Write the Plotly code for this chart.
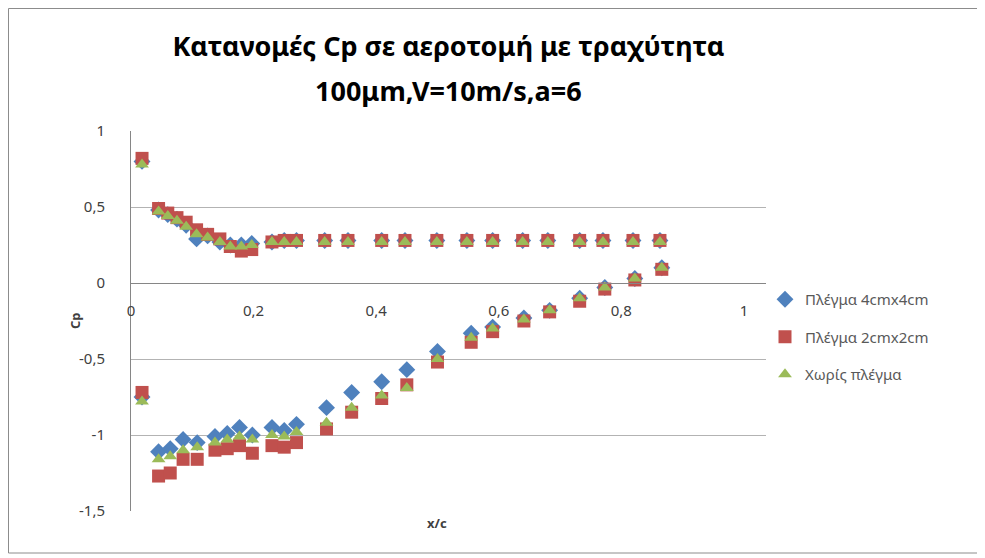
import plotly.graph_objects as go

# x/c positions (upper surface, then lower surface)
x_upper = [0.018, 0.045, 0.06, 0.075, 0.09, 0.107, 0.125, 0.145, 0.162, 0.18, 0.197,
           0.23, 0.25, 0.27, 0.316, 0.354, 0.409, 0.447, 0.499, 0.548, 0.59, 0.639,
           0.68, 0.732, 0.77, 0.819, 0.863]
x_lower = [0.018, 0.045, 0.064, 0.085, 0.108, 0.137, 0.157, 0.177, 0.198, 0.23, 0.25,
           0.27, 0.319, 0.36, 0.409, 0.45, 0.5, 0.555, 0.59, 0.641, 0.683, 0.732,
           0.773, 0.822, 0.866]

# Πλέγμα 4cmx4cm
cp4_upper = [0.80, 0.48, 0.45, 0.42, 0.38, 0.29, 0.31, 0.27, 0.25, 0.25, 0.26,
             0.27, 0.28, 0.28, 0.28, 0.28, 0.28, 0.28, 0.28, 0.28, 0.28, 0.28,
             0.28, 0.28, 0.28, 0.28, 0.28]
cp4_lower = [-0.75, -1.11, -1.09, -1.03, -1.05, -1.01, -0.99, -0.95, -1.0, -0.95, -0.97,
             -0.93, -0.82, -0.72, -0.65, -0.57, -0.45, -0.33, -0.29, -0.23, -0.18, -0.10,
             -0.03, 0.03, 0.10]

# Πλέγμα 2cmx2cm
cp2_upper = [0.82, 0.49, 0.46, 0.43, 0.40, 0.35, 0.32, 0.29, 0.24, 0.21, 0.22,
             0.27, 0.28, 0.28, 0.28, 0.28, 0.28, 0.28, 0.28, 0.28, 0.28, 0.28,
             0.28, 0.28, 0.28, 0.28, 0.28]
cp2_lower = [-0.72, -1.27, -1.25, -1.16, -1.16, -1.10, -1.09, -1.07, -1.12, -1.07, -1.08,
             -1.05, -0.96, -0.85, -0.76, -0.67, -0.52, -0.39, -0.32, -0.25, -0.19, -0.12,
             -0.04, 0.02, 0.09]

# Χωρίς πλέγμα
cp0_upper = [0.78, 0.47, 0.44, 0.41, 0.37, 0.32, 0.30, 0.27, 0.24, 0.24, 0.25,
             0.27, 0.27, 0.27, 0.27, 0.27, 0.27, 0.27, 0.27, 0.27, 0.27, 0.27,
             0.27, 0.27, 0.27, 0.27, 0.27]
cp0_lower = [-0.78, -1.16, -1.14, -1.10, -1.08, -1.05, -1.03, -1.01, -1.03, -1.0, -1.01,
             -0.98, -0.92, -0.82, -0.74, -0.69, -0.50, -0.36, -0.30, -0.24, -0.18, -0.10,
             -0.03, 0.03, 0.10]

x_ticks = [0, 0.2, 0.4, 0.6, 0.8, 1]
x_tick_labels = ["0", "0,2", "0,4", "0,6", "0,8", "1"]
y_ticks = [-1.5, -1, -0.5, 0, 0.5, 1]
y_tick_labels = ["-1,5", "-1", "-0,5", "0", "0,5", "1"]

series = [
    ("Πλέγμα 4cmx4cm", cp4_upper, cp4_lower, "#4F81BD", "diamond", 13),
    ("Πλέγμα 2cmx2cm", cp2_upper, cp2_lower, "#C0504D", "square", 13),
    ("Χωρίς πλέγμα", cp0_upper, cp0_lower, "#9BBB59", "triangle-up", 12),
]

fig = go.Figure()
for name, up, low, color, symbol, size in series:
    fig.add_trace(go.Scatter(
        x=x_upper + x_lower, y=up + low, mode="markers", name=name, legendgroup=name,
        marker=dict(color=color, symbol=symbol, size=size, line=dict(width=0)),
    ))

# page body adds an 8px offset, so the figure is laid out 8px smaller
OFF = 8
W, H = 985 - OFF, 558 - OFF
L, R, T, B = 131 - OFF, 219, 131 - OFF, 47
pw, ph = W - L - R, H - T - B

fig.update_layout(
    width=W, height=H,
    paper_bgcolor="white", plot_bgcolor="white",
    margin=dict(l=L, r=R, t=T, b=B),
    font=dict(family="Noto Sans, Open Sans, sans-serif", color="#404040"),
    title=dict(text="<b>Κατανομές Cp σε αεροτομή με τραχύτητα</b>",
               x=(L + pw / 2) / W, xanchor="center", y=1 - (47 - OFF) / H, yanchor="middle",
               font=dict(size=27, color="#000000", family="Noto Sans, sans-serif")),
    legend=dict(x=(765 - OFF - L) / pw, y=1 - (283 - OFF - T) / ph, xanchor="left", yanchor="top",
                font=dict(size=15, color="#595959"), tracegroupgap=15,
                bgcolor="rgba(0,0,0,0)"),
    showlegend=True,
)

fig.add_annotation(text="<b>100μm,V=10m/s,a=6</b>", xref="paper", yref="paper",
                   x=0.5, y=1 + (T - (90 - OFF)) / ph, xanchor="center", yanchor="middle",
                   showarrow=False, font=dict(size=27, color="#000000", family="Noto Sans, sans-serif"))

fig.update_xaxes(range=[0, 1.036], tickvals=x_ticks, ticktext=x_tick_labels,
                 anchor="free", position=1.5 / 2.5, showline=True, linecolor="#868686",
                 linewidth=1, showgrid=False, zeroline=False, ticks="", ticklabelstandoff=14,
                 tickfont=dict(size=15, color="#404040"))
fig.update_yaxes(range=[-1.5, 1], tickvals=y_ticks, ticktext=y_tick_labels,
                 showline=True, linecolor="#868686", linewidth=1, showgrid=True,
                 gridcolor="#B3B3B3", gridwidth=1, zeroline=False, ticks="", ticklabelstandoff=22,
                 tickfont=dict(size=15, color="#404040"))

# axis titles
fig.add_annotation(text="<b>Cp</b>", xref="paper", yref="paper",
                   x=(75 - OFF - L) / pw, y=0.5, xanchor="center", yanchor="middle",
                   textangle=-90, showarrow=False, font=dict(size=13, color="#404040"))
fig.add_annotation(text="<b>x/c</b>", x=0.5, y=-1.5, xref="x", yref="y", yshift=-12,
                   showarrow=False, font=dict(size=13, color="#404040"))

# chart area border
fig.add_shape(type="rect", xref="paper", yref="paper",
              x0=(0.5 - L) / pw, x1=(W - 4 - L) / pw, y0=-(B - 5) / ph, y1=1 + (T - 0.5) / ph,
              line=dict(color="#8C8C8C", width=1), fillcolor="rgba(0,0,0,0)", layer="below")

fig.write_html("out.html")
